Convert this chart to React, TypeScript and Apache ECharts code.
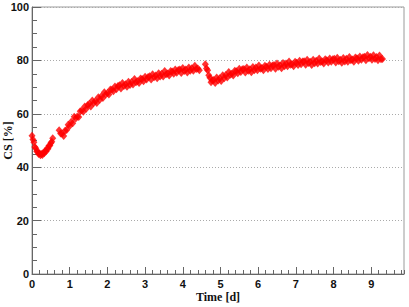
import React, { useEffect, useRef } from "react";
import * as echarts from "echarts";

// Segment A (first day fraction)
const timeA = [0.0, 0.025, 0.05, 0.075, 0.1, 0.125, 0.15, 0.175, 0.2, 0.225, 0.25, 0.275, 0.3, 0.325, 0.35, 0.375, 0.4, 0.425, 0.45, 0.475, 0.5, 0.525, 0.55];
const csA = [51.8, 50.4, 49.3, 47.6, 47.1, 46.0, 45.8, 44.9, 45.2, 44.5, 44.9, 44.6, 45.4, 45.2, 46.1, 46.0, 47.0, 46.9, 48.0, 48.1, 49.1, 49.5, 50.8];

// Segment B
const timeB = [0.72, 0.76, 0.8, 0.84, 0.88, 0.92, 0.96, 1.0, 1.04, 1.08, 1.12, 1.16, 1.2, 1.24, 1.28, 1.32, 1.36, 1.4, 1.44, 1.48, 1.52, 1.56, 1.6, 1.64, 1.68, 1.72, 1.76, 1.8, 1.84, 1.88, 1.92, 1.96, 2.0, 2.04, 2.08, 2.12, 2.16, 2.2, 2.24, 2.28, 2.32, 2.36, 2.4, 2.44, 2.48, 2.52, 2.56, 2.6, 2.64, 2.68, 2.72, 2.76, 2.8, 2.84, 2.88, 2.92, 2.96, 3.0, 3.04, 3.08, 3.12, 3.16, 3.2, 3.24, 3.28, 3.32, 3.36, 3.4, 3.44, 3.48, 3.52, 3.56, 3.6, 3.64, 3.68, 3.72, 3.76, 3.8, 3.84, 3.88, 3.92, 3.96, 4.0, 4.04, 4.08, 4.12, 4.16, 4.2, 4.24, 4.28, 4.32, 4.36, 4.4, 4.44];
const csB = [53.8, 52.6, 52.5, 51.7, 53.7, 53.9, 55.9, 55.4, 57.0, 56.5, 58.9, 58.2, 59.0, 58.8, 61.0, 61.2, 60.8, 62.7, 61.9, 63.3, 63.8, 62.7, 65.0, 64.0, 64.8, 64.0, 66.2, 65.3, 66.6, 65.9, 68.1, 67.2, 67.8, 67.2, 69.1, 69.0, 68.4, 70.2, 69.2, 70.4, 70.7, 69.5, 71.5, 70.4, 71.1, 70.1, 72.0, 70.8, 71.9, 71.0, 73.0, 71.8, 72.2, 71.5, 73.2, 73.0, 72.2, 73.9, 72.8, 73.8, 74.1, 72.8, 74.8, 73.7, 74.3, 73.3, 75.2, 74.0, 75.0, 74.0, 76.0, 74.8, 75.1, 74.3, 76.0, 75.8, 75.0, 76.6, 75.4, 76.4, 76.6, 75.3, 77.2, 76.0, 76.6, 75.5, 77.3, 76.1, 77.1, 76.1, 78.0, 76.8, 77.0, 76.3];

// Segment C
const timeC = [4.6, 4.63, 4.66, 4.69, 4.72, 4.75, 4.78, 4.82, 4.86, 4.9, 4.94, 4.98, 5.02, 5.06, 5.1, 5.14, 5.18, 5.22, 5.26, 5.3, 5.34, 5.38, 5.42, 5.46, 5.5, 5.54, 5.58, 5.62, 5.66, 5.7, 5.74, 5.78, 5.82, 5.86, 5.9, 5.94, 5.98, 6.02, 6.06, 6.1, 6.14, 6.18, 6.22, 6.26, 6.3, 6.34, 6.38, 6.42, 6.46, 6.5, 6.54, 6.58, 6.62, 6.66, 6.7, 6.74, 6.78, 6.82, 6.86, 6.9, 6.94, 6.98, 7.02, 7.06, 7.1, 7.14, 7.18, 7.22, 7.26, 7.3, 7.34, 7.38, 7.42, 7.46, 7.5, 7.54, 7.58, 7.62, 7.66, 7.7, 7.74, 7.78, 7.82, 7.86, 7.9, 7.94, 7.98, 8.02, 8.06, 8.1, 8.14, 8.18, 8.22, 8.26, 8.3, 8.34, 8.38, 8.42, 8.46, 8.5, 8.54, 8.58, 8.62, 8.66, 8.7, 8.74, 8.78, 8.82, 8.86, 8.9, 8.94, 8.98, 9.02, 9.06, 9.1, 9.14, 9.18, 9.22, 9.26, 9.3];
const csC = [78.6, 77.0, 76.3, 74.4, 73.5, 71.8, 72.6, 72.7, 71.5, 73.6, 72.5, 73.3, 72.3, 74.4, 73.3, 74.5, 73.6, 75.7, 74.6, 75.0, 74.3, 76.1, 75.9, 75.2, 76.9, 75.7, 76.7, 76.8, 75.5, 77.3, 76.1, 76.7, 75.6, 77.5, 76.3, 77.3, 76.3, 78.1, 76.9, 77.2, 76.3, 78.0, 77.6, 76.8, 78.4, 77.1, 78.1, 78.3, 76.9, 78.8, 77.6, 78.2, 77.1, 79.0, 77.8, 78.8, 77.8, 79.6, 78.4, 78.6, 77.8, 79.5, 79.1, 78.3, 79.9, 78.6, 79.6, 79.7, 78.4, 80.2, 79.0, 79.5, 78.3, 80.2, 78.9, 79.9, 78.8, 80.7, 79.4, 79.6, 78.8, 80.4, 80.1, 79.2, 80.7, 79.5, 80.4, 80.6, 79.2, 81.0, 79.7, 80.2, 79.1, 80.9, 79.6, 80.6, 79.5, 81.3, 80.1, 80.3, 79.5, 81.1, 80.8, 79.9, 81.5, 80.2, 81.2, 81.4, 80.1, 82.0, 80.8, 81.4, 80.2, 81.9, 80.5, 81.3, 80.1, 81.8, 80.4, 80.5];

const xTickLabels = ["0", "1", "2", "3", "4", "5", "6", "7", "8", "9"];
const yTickLabels = ["0", "20", "40", "60", "80", "100"];

const X_MAX = 9.87;

export default function App() {
  const ref = useRef<HTMLDivElement>(null);
  useEffect(() => {
    if (!ref.current) return;
    const chart = echarts.init(ref.current, null, { renderer: "svg" });
    const pts: number[][] = [];
    [
      [timeA, csA],
      [timeB, csB],
      [timeC, csC],
    ].forEach(([t, v]) => t.forEach((x, i) => pts.push([x, v[i]])));

    const labelStyle = {
      color: "#111",
      fontFamily: "Liberation Sans, Arial, sans-serif",
      fontWeight: "bold" as const,
      fontSize: 11,
    };

    chart.setOption({
      animation: false,
      backgroundColor: "#fff",
      grid: {
        left: 32,
        right: 5,
        top: 7,
        bottom: 33,
        containLabel: false,
        outerBoundsMode: "none",
        show: true,
        borderColor: "#9a9a9a",
        borderWidth: 1,
        backgroundColor: "transparent",
      },
      xAxis: [
        {
          type: "value",
          min: 0,
          max: X_MAX,
          interval: 1,
          position: "bottom",
          axisLine: { show: true, lineStyle: { color: "#666", width: 1 } },
          axisTick: { show: true, inside: true, length: 7, lineStyle: { color: "#666" } },
          minorTick: { show: false },
          splitLine: { show: false },
          axisLabel: {
            ...labelStyle,
            margin: 4,
            showMaxLabel: false,
            formatter: (v: number) => {
              const i = Math.round(v);
              return Math.abs(v - i) < 1e-6 && xTickLabels[i] !== undefined ? xTickLabels[i] : "";
            },
          },
          name: "Time [d]",
          nameLocation: "middle",
          nameGap: 17,
          nameMoveOverlap: false,
          nameTextStyle: {
            color: "#111",
            fontFamily: "Liberation Serif, Times New Roman, serif",
            fontWeight: "bold",
            fontSize: 12,
          },
        },
        {
          type: "value",
          min: 0,
          max: X_MAX,
          interval: 0.2,
          position: "bottom",
          axisLine: { show: false },
          axisTick: { show: true, inside: true, length: 4, lineStyle: { color: "#666" } },
          splitLine: { show: false },
          axisLabel: { show: false },
        },
      ],
      yAxis: {
        type: "value",
        min: 0,
        max: 100,
        interval: 20,
        axisLine: { show: true, lineStyle: { color: "#666", width: 1 } },
        axisTick: { show: true, inside: true, length: 9, lineStyle: { color: "#666" } },
        minorTick: { show: true, splitNumber: 4, length: 5, lineStyle: { color: "#666" } },
        splitLine: { show: true, lineStyle: { color: "#aaa", type: [1, 2], width: 1 } },
        axisLabel: {
          ...labelStyle,
          margin: 3,
          formatter: (v: number) => {
            const i = Math.round(v / 20);
            return yTickLabels[i] ?? "";
          },
        },
        name: "CS [%]",
        nameLocation: "middle",
        nameGap: 18,
        nameMoveOverlap: false,
        nameRotate: 90,
        nameTextStyle: {
          color: "#111",
          fontFamily: "Liberation Serif, Times New Roman, serif",
          fontWeight: "bold",
          fontSize: 12,
        },
      },
      series: [
        {
          type: "scatter",
          xAxisIndex: 0,
          data: pts,
          symbol: "diamond",
          symbolSize: [7, 8],
          itemStyle: { color: "#ff0000" },
        },
      ],
    });
    return () => chart.dispose();
  }, []);
  return (
    <div
      ref={ref}
      style={{ position: "fixed", left: 0, top: 0, width: 409, height: 307, background: "#fff" }}
    />
  );
}
